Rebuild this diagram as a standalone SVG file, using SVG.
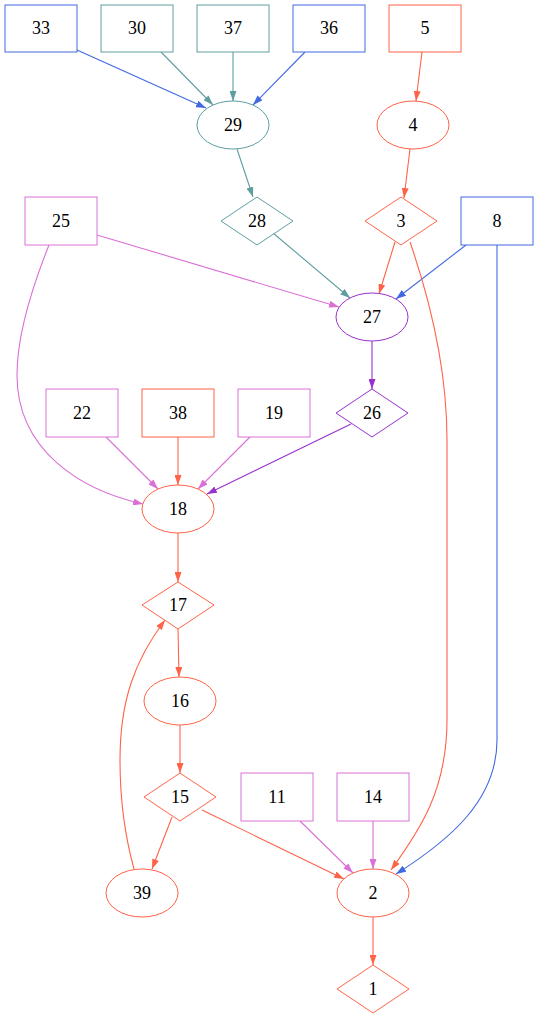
<svg xmlns="http://www.w3.org/2000/svg" width="539" height="1019" viewBox="0 0 539 1019">
<style>
text{font-family:"Liberation Serif","Times New Roman",serif;font-size:18px;text-anchor:middle;dominant-baseline:central;fill:#000}
.n{fill:#fff;stroke-width:1}
.rb{stroke:#4169e1}.cb{stroke:#5f9ea0}.tm{stroke:#ff6347}.or{stroke:#da70d6}.do{stroke:#9932cc}
#edges path{fill:none;stroke-width:1.1}
</style>
<defs>
<marker id="a-rb" viewBox="0 0 10 7" refX="10" refY="3.5" markerWidth="10" markerHeight="7" markerUnits="userSpaceOnUse" orient="auto"><path d="M0,0L10,3.5L0,7z" fill="#4169e1"/></marker>
<marker id="a-cb" viewBox="0 0 10 7" refX="10" refY="3.5" markerWidth="10" markerHeight="7" markerUnits="userSpaceOnUse" orient="auto"><path d="M0,0L10,3.5L0,7z" fill="#5f9ea0"/></marker>
<marker id="a-tm" viewBox="0 0 10 7" refX="10" refY="3.5" markerWidth="10" markerHeight="7" markerUnits="userSpaceOnUse" orient="auto"><path d="M0,0L10,3.5L0,7z" fill="#ff6347"/></marker>
<marker id="a-or" viewBox="0 0 10 7" refX="10" refY="3.5" markerWidth="10" markerHeight="7" markerUnits="userSpaceOnUse" orient="auto"><path d="M0,0L10,3.5L0,7z" fill="#da70d6"/></marker>
<marker id="a-do" viewBox="0 0 10 7" refX="10" refY="3.5" markerWidth="10" markerHeight="7" markerUnits="userSpaceOnUse" orient="auto"><path d="M0,0L10,3.5L0,7z" fill="#9932cc"/></marker>
</defs>
<g id="edges">
<path class="rb" marker-end="url(#a-rb)" d="M77,50L206,108"/>
<path class="cb" marker-end="url(#a-cb)" d="M161,52L213,105"/>
<path class="cb" marker-end="url(#a-cb)" d="M233,52L233,101"/>
<path class="rb" marker-end="url(#a-rb)" d="M305,52L253,105"/>
<path class="tm" marker-end="url(#a-tm)" d="M422,52L416,101"/>
<path class="cb" marker-end="url(#a-cb)" d="M237,149L253,197"/>
<path class="tm" marker-end="url(#a-tm)" d="M410,149L404,198"/>
<path class="cb" marker-end="url(#a-cb)" d="M273,233L350,298"/>
<path class="tm" marker-end="url(#a-tm)" d="M395,242L379,294"/>
<path class="rb" marker-end="url(#a-rb)" d="M466,245L396,299"/>
<path class="or" marker-end="url(#a-or)" d="M97,235L339,307"/>
<path class="tm" marker-end="url(#a-tm)" d="M410,242C430,300 447,370 447,440L447,720C447,790 420,830 391,870"/>
<path class="rb" marker-end="url(#a-rb)" d="M497,245L497,740C497,800 450,840 396,874"/>
<path class="do" marker-end="url(#a-do)" d="M372,341L372,389"/>
<path class="or" marker-end="url(#a-or)" d="M49,245C35,280 17,330 17,375C17,450 80,490 143,504"/>
<path class="or" marker-end="url(#a-or)" d="M106,437L158,489"/>
<path class="tm" marker-end="url(#a-tm)" d="M178,437L178,485"/>
<path class="or" marker-end="url(#a-or)" d="M250,437L198,489"/>
<path class="do" marker-end="url(#a-do)" d="M351,424L207,494"/>
<path class="tm" marker-end="url(#a-tm)" d="M178,533L178,582"/>
<path class="tm" marker-end="url(#a-tm)" d="M178,629L179,677"/>
<path class="tm" marker-end="url(#a-tm)" d="M180,725L180,773"/>
<path class="tm" marker-end="url(#a-tm)" d="M172,817L152,869"/>
<path class="tm" marker-end="url(#a-tm)" d="M134,869C126,840 120,800 120,760C120,700 135,660 165,620"/>
<path class="tm" marker-end="url(#a-tm)" d="M202,810L344,879"/>
<path class="or" marker-end="url(#a-or)" d="M300,821L353,873"/>
<path class="or" marker-end="url(#a-or)" d="M373,821L373,869"/>
<path class="tm" marker-end="url(#a-tm)" d="M373,917L373,965"/>
</g>
<g id="n33"><rect class="n rb" x="5" y="5" width="72" height="47"/><text x="41" y="28">33</text></g>
<g id="n30"><rect class="n cb" x="101" y="5" width="72" height="47"/><text x="137" y="28">30</text></g>
<g id="n37"><rect class="n cb" x="197" y="5" width="72" height="47"/><text x="233" y="28">37</text></g>
<g id="n36"><rect class="n rb" x="293" y="5" width="72" height="47"/><text x="329" y="28">36</text></g>
<g id="n5"><rect class="n tm" x="389" y="5" width="72" height="47"/><text x="425" y="28">5</text></g>
<g id="n29"><ellipse class="n cb" cx="233" cy="125" rx="36" ry="24"/><text x="233" y="125">29</text></g>
<g id="n4"><ellipse class="n tm" cx="413" cy="125" rx="36" ry="24"/><text x="413" y="125">4</text></g>
<g id="n25"><rect class="n or" x="25" y="197" width="72" height="48"/><text x="61" y="221">25</text></g>
<g id="n28"><polygon class="n cb" points="257,197 293,221 257,245 221,221"/><text x="257" y="221">28</text></g>
<g id="n3"><polygon class="n tm" points="401,197 437,221 401,245 365,221"/><text x="401" y="221">3</text></g>
<g id="n8"><rect class="n rb" x="461" y="197" width="72" height="48"/><text x="497" y="221">8</text></g>
<g id="n27"><ellipse class="n do" cx="372" cy="317" rx="36" ry="24"/><text x="372" y="317">27</text></g>
<g id="n22"><rect class="n or" x="46" y="389" width="72" height="48"/><text x="82" y="413">22</text></g>
<g id="n38"><rect class="n tm" x="142" y="389" width="72" height="48"/><text x="178" y="413">38</text></g>
<g id="n19"><rect class="n or" x="238" y="389" width="72" height="48"/><text x="274" y="413">19</text></g>
<g id="n26"><polygon class="n do" points="372,389 408,413 372,437 336,413"/><text x="372" y="413">26</text></g>
<g id="n18"><ellipse class="n tm" cx="178" cy="509" rx="36" ry="24"/><text x="178" y="509">18</text></g>
<g id="n17"><polygon class="n tm" points="178,582 214,605 178,629 142,605"/><text x="178" y="605">17</text></g>
<g id="n16"><ellipse class="n tm" cx="180" cy="701" rx="36" ry="24"/><text x="180" y="701">16</text></g>
<g id="n15"><polygon class="n tm" points="180,773 216,797 180,821 144,797"/><text x="180" y="797">15</text></g>
<g id="n11"><rect class="n or" x="241" y="773" width="72" height="48"/><text x="277" y="797">11</text></g>
<g id="n14"><rect class="n or" x="337" y="773" width="72" height="48"/><text x="373" y="797">14</text></g>
<g id="n39"><ellipse class="n tm" cx="142" cy="893" rx="36" ry="24"/><text x="142" y="893">39</text></g>
<g id="n2"><ellipse class="n tm" cx="373" cy="893" rx="36" ry="24"/><text x="373" y="893">2</text></g>
<g id="n1"><polygon class="n tm" points="373,965 409,989 373,1013 337,989"/><text x="373" y="989">1</text></g>
</svg>
